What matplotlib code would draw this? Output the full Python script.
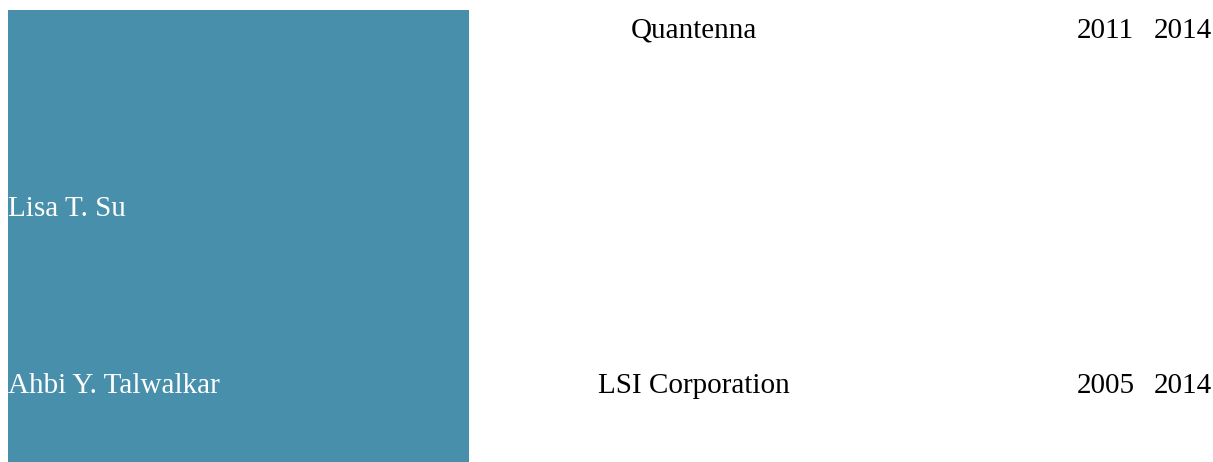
import matplotlib.pyplot as plt

# table rows: name, company, start year, end year
names = ["", "Lisa T. Su", "Ahbi Y. Talwalkar"]
companies = ["Quantenna", "", "LSI Corporation"]
start_years = ["2011", "", "2005"]
end_years = ["2014", "", "2014"]

row_base = [38, 216, 393]

plt.rcParams['font.family'] = ['Liberation Serif', 'DejaVu Serif']

fig = plt.figure(figsize=(12.13, 4.62), dpi=100)
ax = fig.add_axes([0, 0, 1, 1])
ax.set_xlim(0, 1213)
ax.set_ylim(462, 0)
ax.axis('off')

# blue name column
ax.bar(8, 452, width=461, bottom=10, align='edge', color='#488fac')

fs = 21
for i in range(len(names)):
    y = row_base[i]
    ax.text(8, y, names[i], color='white', fontsize=fs, ha='left', va='baseline')
    ax.text(694, y, companies[i], color='black', fontsize=fs, ha='center', va='baseline')
    ax.text(1077, y, start_years[i], color='black', fontsize=fs, ha='left', va='baseline')
    ax.text(1154, y, end_years[i], color='black', fontsize=fs, ha='left', va='baseline')

fig.savefig('out.png', dpi=100)
